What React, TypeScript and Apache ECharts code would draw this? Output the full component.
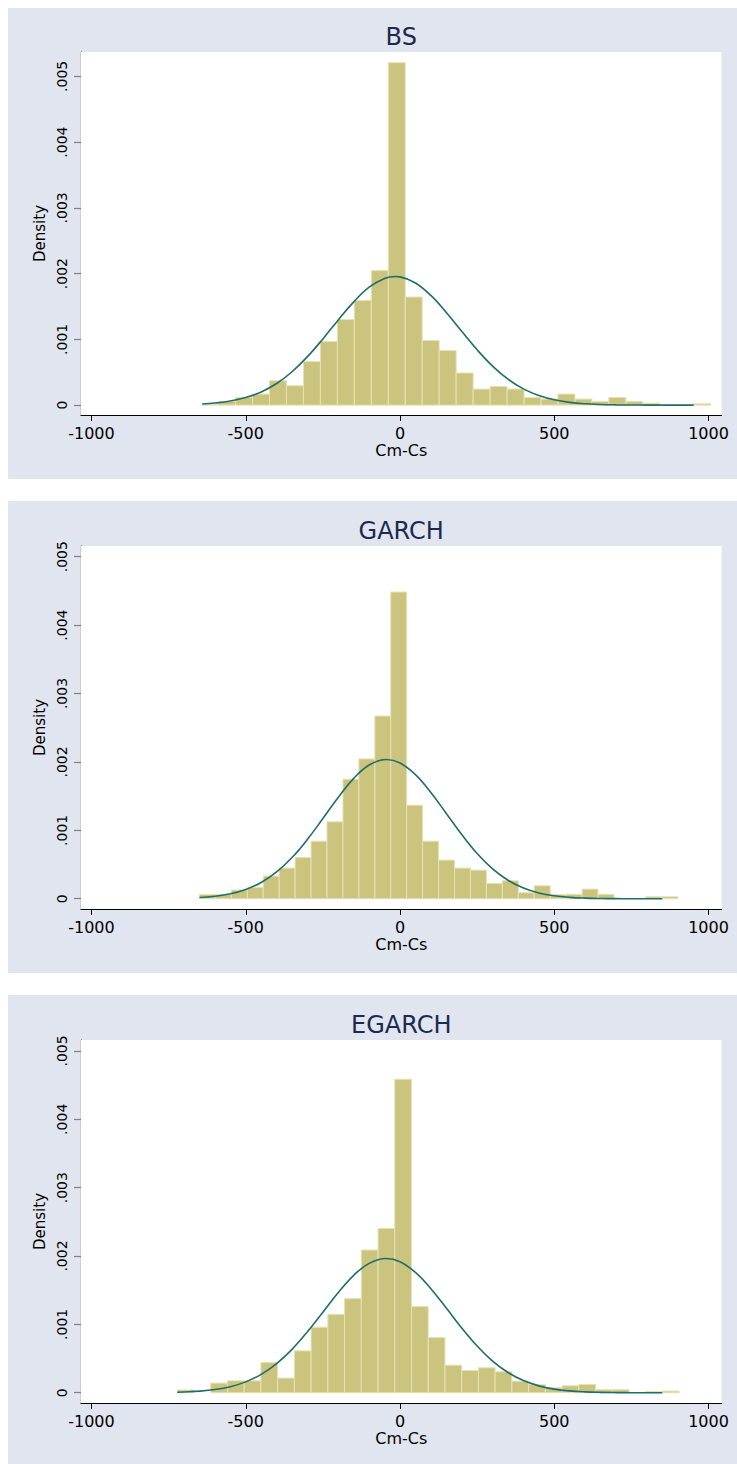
import React, { useEffect, useRef } from "react";
import * as echarts from "echarts";

// ---------- data ----------
const panelTitles = ["BS", "GARCH", "EGARCH"];
const xTicks = [-1000, -500, 0, 500, 1000];
const yTicks = [0, 0.001, 0.002, 0.003, 0.004, 0.005];

// histogram bins: start, width, densities
const bsBinStart = -643;
const bsBinWidth = 55;
const bsHeights = [
  0.00001, 0.000056, 0.000117, 0.000168, 0.000371, 0.000295, 0.000662, 0.000967,
  0.001303, 0.001593, 0.002046, 0.005208, 0.001644, 0.000982, 0.00083, 0.000489,
  0.000244, 0.000285, 0.000244, 0.000117, 0.000092, 0.000168, 0.000092, 0.000056,
  0.000117, 0.000056, 0.00003, 0, 0, 0.00002,
];

const garchBinStart = -650;
const garchBinWidth = 51.67;
const garchHeights = [
  0.000063, 0.000063, 0.000127, 0.000165, 0.000331, 0.000448, 0.000603, 0.000842,
  0.001124, 0.001747, 0.002044, 0.00267, 0.004483, 0.001367, 0.000842, 0.000564,
  0.000448, 0.000418, 0.000224, 0.000263, 0.000088, 0.00019, 0.00006, 0.000065,
  0.000141, 0.000065, 0, 0, 0.000029, 0.000029,
];

const egarchBinStart = -722;
const egarchBinWidth = 54.23;
const egarchHeights = [
  0.00004, 0, 0.000141, 0.000175, 0.000175, 0.000443, 0.000214, 0.000613,
  0.000959, 0.001148, 0.001377, 0.002088, 0.002404, 0.004586, 0.00126, 0.000808,
  0.000404, 0.000326, 0.000365, 0.000307, 0.00017, 0.000122, 0.000073, 0.000102,
  0.000122, 0.000044, 0.000044, 0, 0.00002, 0.000024,
];

// normal density overlays
const bsCurve = [
  [-641, 0.0000176], [-600, 0.000032], [-550, 0.0000628], [-500, 0.000116], [-450, 0.000201],
  [-400, 0.000329], [-350, 0.000508], [-300, 0.000737], [-250, 0.001007], [-200, 0.001296],
  [-150, 0.00157], [-100, 0.001793], [-50, 0.001926], [-15, 0.001955], [0, 0.00195],
  [50, 0.001858], [100, 0.001668], [150, 0.00141], [200, 0.001122], [250, 0.000841],
  [300, 0.000594], [350, 0.000395], [400, 0.000247], [450, 0.000146], [500, 0.0000808],
  [550, 0.0000422], [600, 0.0000208], [650, 0.0000096], [700, 0.0000042], [750, 0.0000017],
  [800, 0.0000007], [850, 0.0000002], [900, 0.0000001], [952, 0],
];
const garchCurve = [
  [-650, 0.0000171], [-600, 0.0000364], [-550, 0.0000727], [-500, 0.000136], [-450, 0.000238],
  [-400, 0.000391], [-350, 0.000602], [-300, 0.000868], [-250, 0.001172], [-200, 0.001483],
  [-150, 0.001759], [-100, 0.001955], [-44, 0.002036], [0, 0.001985], [50, 0.001815],
  [100, 0.001554], [150, 0.001247], [200, 0.000938], [250, 0.000661], [300, 0.000436],
  [350, 0.00027], [400, 0.000157], [450, 0.000085], [500, 0.0000432], [550, 0.0000206],
  [600, 0.0000092], [650, 0.0000038], [700, 0.0000015], [750, 0.0000006], [800, 0.0000002],
  [850, 0.0000001],
];
const egarchCurve = [
  [-722, 0.0000075], [-700, 0.0000108], [-650, 0.0000231], [-600, 0.0000468], [-550, 0.000089],
  [-500, 0.000159], [-450, 0.000269], [-400, 0.000426], [-350, 0.000635], [-300, 0.000892],
  [-250, 0.001179], [-200, 0.001467], [-150, 0.001718], [-100, 0.001893], [-45, 0.001964],
  [0, 0.001916], [50, 0.00176], [100, 0.001522], [150, 0.001238], [200, 0.000948],
  [250, 0.000683], [300, 0.000463], [350, 0.000296], [400, 0.000178], [450, 0.0001005],
  [500, 0.0000535], [550, 0.0000268], [600, 0.0000126], [650, 0.0000056], [700, 0.0000023],
  [750, 0.0000009], [800, 0.0000003], [850, 0.0000001],
];

const panelsData = [
  { start: bsBinStart, width: bsBinWidth, heights: bsHeights, curve: bsCurve },
  { start: garchBinStart, width: garchBinWidth, heights: garchHeights, curve: garchCurve },
  { start: egarchBinStart, width: egarchBinWidth, heights: egarchHeights, curve: egarchCurve },
];

// ---------- layout ----------
const W = 737;
const H = 1464;
const X_MIN = -1034;
const X_MAX = 1042;
const Y_MIN = -0.00015;
const PLOT_LEFT = 81;
const PLOT_RIGHT = 721.5;
const PLOT_H = 363;
const layout = [
  { bgTop: 8, bgBottom: 479, plotTop: 52, titleY: 37, yMax: 0.00537 },
  { bgTop: 501, bgBottom: 973, plotTop: 546, titleY: 531, yMax: 0.005156 },
  { bgTop: 995, bgBottom: 1464, plotTop: 1040, titleY: 1025, yMax: 0.00516 },
];

const BG = "#E1E5EF";
const BAR_FILL = "#CBC47F";
const BAR_STROKE = "#E6E2B6";
const CURVE = "#1F6E68";
const TITLE_COLOR = "#1C2A4E";
const FONT = "DejaVu Sans";

const fmtX = (v: number) => String(Math.round(v));
const fmtY = (v: number) => (v === 0 ? "0" : String(+v.toFixed(3)).replace(/^0\./, "."));

export default function App() {
  const ref = useRef<HTMLDivElement>(null);

  useEffect(() => {
    document.body.style.margin = "0";
    if (!ref.current) return;
    const chart = echarts.init(ref.current, undefined, { renderer: "svg", width: W, height: H });

    const grids: any[] = [];
    const xAxes: any[] = [];
    const yAxes: any[] = [];
    const series: any[] = [];
    const graphics: any[] = [];

    layout.forEach((L, i) => {
      const d = panelsData[i];
      graphics.push({
        type: "rect",
        z: -10,
        silent: true,
        shape: { x: 8, y: L.bgTop, width: W - 8, height: L.bgBottom - L.bgTop },
        style: { fill: BG },
      });
      graphics.push({
        type: "text",
        z: 10,
        x: (PLOT_LEFT + PLOT_RIGHT) / 2,
        y: L.titleY,
        style: {
          text: panelTitles[i],
          fill: TITLE_COLOR,
          fontSize: 24,
          fontFamily: FONT,
          align: "center",
          verticalAlign: "middle",
        },
      });

      grids.push({
        left: PLOT_LEFT,
        right: W - PLOT_RIGHT,
        top: L.plotTop,
        height: PLOT_H,
        show: true,
        backgroundColor: "#FFFFFF",
        borderWidth: 0,
        z: 1,
      });

      xAxes.push({
        type: "value",
        gridIndex: i,
        min: X_MIN,
        max: X_MAX,
        axisLine: { show: true, onZero: false, lineStyle: { color: "#000", width: 1.2 } },
        axisTick: { show: true, customValues: xTicks, length: 6, lineStyle: { color: "#000", width: 1 } },
        axisLabel: {
          customValues: xTicks,
          margin: 10,
          color: "#000",
          fontSize: 16,
          fontFamily: FONT,
          formatter: fmtX,
        },
        splitLine: { show: false },
        name: "Cm-Cs",
        nameLocation: "middle",
        nameGap: 27,
        nameTextStyle: { color: "#000", fontSize: 16, fontFamily: FONT },
      });

      yAxes.push({
        type: "value",
        gridIndex: i,
        min: Y_MIN,
        max: L.yMax,
        axisLine: { show: true, onZero: false, lineStyle: { color: "#000", width: 1.2 } },
        axisTick: { show: true, customValues: yTicks, length: 7, lineStyle: { color: "#808080", width: 1.2 } },
        axisLabel: {
          customValues: yTicks,
          rotate: 90,
          margin: 12,
          color: "#000",
          fontSize: 14,
          fontFamily: FONT,
          formatter: fmtY,
        },
        splitLine: { show: true, lineStyle: { color: "#E3E7F1", width: 1.6 } },
        name: "Density",
        nameLocation: "middle",
        nameGap: 34,
        nameTextStyle: { color: "#000", fontSize: 15, fontFamily: FONT },
      });

      series.push({
        type: "custom",
        xAxisIndex: i,
        yAxisIndex: i,
        z: 3,
        data: d.heights.map((h, k) => [d.start + k * d.width, d.start + (k + 1) * d.width, h]),
        encode: { x: [0, 1], y: 2 },
        renderItem: (params: any, api: any) => {
          const h = api.value(2);
          if (!h) return null;
          const p0 = api.coord([api.value(0), h]);
          const p1 = api.coord([api.value(1), 0]);
          return {
            type: "rect",
            shape: { x: p0[0], y: p0[1], width: p1[0] - p0[0], height: p1[1] - p0[1] },
            style: { fill: BAR_FILL, stroke: BAR_STROKE, lineWidth: 1 },
          };
        },
      });

      series.push({
        type: "line",
        xAxisIndex: i,
        yAxisIndex: i,
        z: 5,
        data: d.curve,
        symbol: "none",
        showSymbol: false,
        smooth: 0.4,
        lineStyle: { color: CURVE, width: 1.6 },
      });
    });

    chart.setOption({
      animation: false,
      backgroundColor: "#FFFFFF",
      grid: grids,
      xAxis: xAxes,
      yAxis: yAxes,
      series,
      graphic: { elements: graphics },
    });

    return () => chart.dispose();
  }, []);

  return <div ref={ref} style={{ width: W, height: H }} />;
}
